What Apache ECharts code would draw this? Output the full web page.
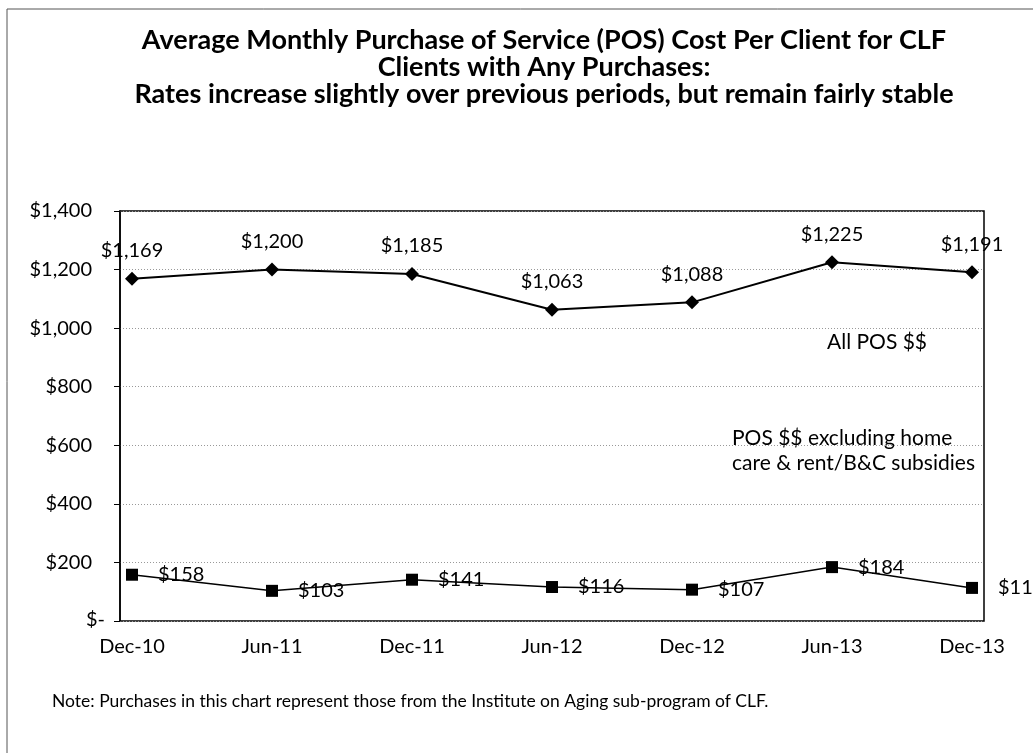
<!DOCTYPE html>
<html>
<head>
<meta charset="utf-8">
<script src="https://cdn.jsdelivr.net/npm/echarts@6/dist/echarts.min.js"></script>
<style>
html,body{margin:0;padding:0;background:#fff;}
#chart{width:1033px;height:753px;}
</style>
</head>
<body>
<div id="chart"></div>
<script>
const categories = ['Dec-10','Jun-11','Dec-11','Jun-12','Dec-12','Jun-13','Dec-13'];
const allPos = [1169, 1200, 1185, 1063, 1088, 1225, 1191];
const posExcl = [158, 103, 141, 116, 107, 184, 113];
const yTicks = [0, 200, 400, 600, 800, 1000, 1200, 1400];
const titleLines = [
  'Average Monthly Purchase of Service (POS) Cost Per Client for CLF',
  'Clients with Any Purchases:',
  'Rates increase slightly over previous periods, but remain fairly stable'
];
const noteText = 'Note: Purchases in this chart represent those from the Institute on Aging sub-program of CLF.';
const seriesNames = ['All POS $$', 'POS $$ excluding home\ncare & rent/B&C subsidies'];
const zeroLabel = '$-';

const FONT = 'Lato, "Open Sans", sans-serif';
function money(v){
  if (v === 0) return zeroLabel;
  return '$' + v.toLocaleString('en-US');
}

const chart = echarts.init(document.getElementById('chart'), null, {renderer:'canvas'});
chart.setOption({
  backgroundColor:'#fff',
  animation:false,
  grid:[
    {left:120, right:49, top:211, bottom:132, show:true, borderColor:'#000', borderWidth:1.5},
    {left:132, right:61, top:211, bottom:132}
  ],
  xAxis:[
    {gridIndex:0, type:'value', min:0, max:1, show:false},
    {gridIndex:1, type:'category', data:categories, boundaryGap:false,
     axisLine:{show:false}, axisTick:{show:false}, splitLine:{show:false},
     axisLabel:{fontFamily:FONT, fontSize:20, color:'#000', margin:16}}
  ],
  yAxis:[
    {gridIndex:0, type:'value', min:0, max:1400, interval:200,
     axisLine:{show:true, lineStyle:{color:'#000', width:1.5}},
     axisTick:{show:true, length:6, lineStyle:{color:'#000'}},
     splitLine:{show:true, lineStyle:{color:'#999', type:[1,2], width:1}},
     axisLabel:{fontFamily:FONT, fontSize:20, color:'#000', margin:28,
       formatter:function(v){ return v === 0 ? '' : money(v); }}},
    {gridIndex:1, type:'value', min:0, max:1400, show:false}
  ],
  series:[
    {name:seriesNames[0], type:'line', xAxisIndex:1, yAxisIndex:1, data:allPos,
     symbol:'diamond', symbolSize:14, itemStyle:{color:'#000'},
     lineStyle:{color:'#000', width:2},
     label:{show:true, position:'top', distance:11, fontFamily:FONT, fontSize:20, color:'#000',
       formatter:function(p){ return money(p.value); }}},
    {name:seriesNames[1], type:'line', xAxisIndex:1, yAxisIndex:1, data:posExcl,
     symbol:'rect', symbolSize:12, itemStyle:{color:'#000'},
     lineStyle:{color:'#000', width:1.5},
     label:{show:true, position:'right', distance:20, fontFamily:FONT, fontSize:20, color:'#000',
       formatter:function(p){ return money(p.value); }}}
  ],
  graphic:[
    {type:'rect', shape:{x:7, y:9, width:1200, height:900}, style:{fill:null, stroke:'#555', lineWidth:1}, silent:true},
    {type:'text', x:544, y:27, style:{text:titleLines.join('\n'), textAlign:'center', font:'bold 27px ' + FONT, lineHeight:27, fill:'#000'}},
    {type:'text', x:86, y:620, style:{text:zeroLabel, textVerticalAlign:'middle', font:'20px ' + FONT, fill:'#000'}},
    {type:'text', x:827, y:330, style:{text:seriesNames[0], font:'21px ' + FONT, lineHeight:24, fill:'#000'}},
    {type:'text', x:732, y:426, style:{text:seriesNames[1], font:'21px ' + FONT, lineHeight:25, fill:'#000'}},
    {type:'text', x:52, y:692, style:{text:noteText, font:'17.5px ' + FONT, fill:'#000'}}
  ]
});
</script>
</body>
</html>
